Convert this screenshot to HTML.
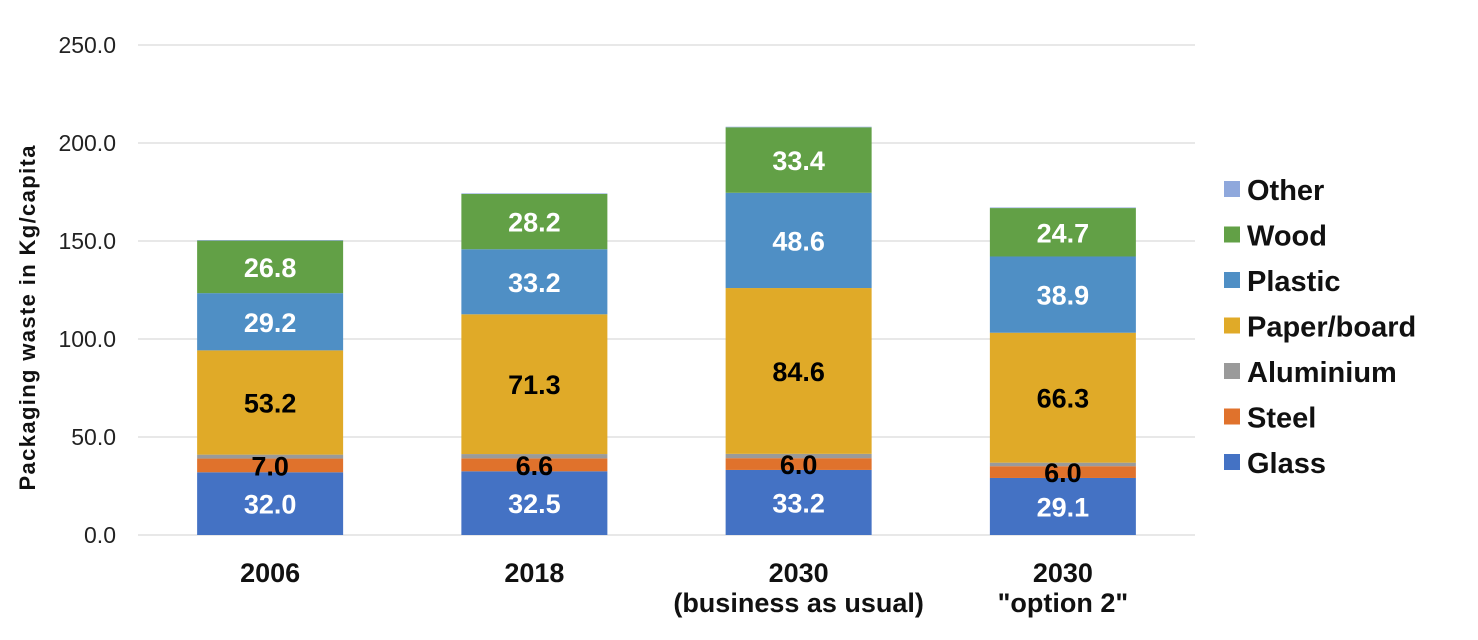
<!DOCTYPE html>
<html><head><meta charset="utf-8"><style>
html,body{margin:0;padding:0;background:#fff;}
svg{display:block;font-family:"Liberation Sans",Arial,sans-serif;}
</style></head><body>
<svg id="chart" width="1478" height="640"></svg>
<script>
const categories = ["2006", "2018", "2030|(business as usual)", "2030|\"option 2\""];
const seriesNames = ["Glass", "Steel", "Aluminium", "Paper/board", "Plastic", "Wood", "Other"];
const glass = [32.0, 32.5, 33.2, 29.1];
const steel = [7.0, 6.6, 6.0, 6.0];
const aluminium = [2.0, 2.2, 2.2, 1.8];
const paper = [53.2, 71.3, 84.6, 66.3];
const plastic = [29.2, 33.2, 48.6, 38.9];
const wood = [26.8, 28.2, 33.4, 24.7];
const other = [0.3, 0.3, 0.3, 0.3];
const yTicks = [0, 50, 100, 150, 200, 250];
const showLabel = [true, true, false, true, true, true, false];
const colors = ["#4472c4", "#e0722c", "#9a9a9a", "#e0aa28", "#4f8fc5", "#62a046", "#8fa8dc"];
const labelColors = ["#fff", "#000", "#000", "#000", "#fff", "#fff", "#000"];
const series = [glass, steel, aluminium, paper, plastic, wood, other];

const NS = "http://www.w3.org/2000/svg";
const svg = document.getElementById("chart");
const plotLeft = 138, plotRight = 1195, y0 = 535, yTop = 45, yMax = 250;
const yScale = v => y0 - (v / yMax) * (y0 - yTop);
const band = (plotRight - plotLeft) / categories.length;
const barW = 146;
const xCenter = i => plotLeft + band * (i + 0.5);

function mk(tag, attrs, parent) {
  const e = document.createElementNS(NS, tag);
  for (const k in attrs) e.setAttribute(k, attrs[k]);
  (parent || svg).appendChild(e);
  return e;
}

yTicks.forEach(t => {
  const g = mk("line", {x1: plotLeft, x2: plotRight, y1: yScale(t), y2: yScale(t), stroke: "#d9d9d9", "stroke-width": 1.2});
  
  
  const tx = mk("text", {x: 116, y: yScale(t) + 8, "text-anchor": "end", "font-size": 23, fill: "#222"});
  tx.textContent = t.toFixed(1);
  
  
});

const yt = mk("text", {x: 0, y: 0, transform: "translate(35,318) rotate(-90)", "text-anchor": "middle", "font-size": 22, "font-weight": "bold", fill: "#111"});
yt.textContent = "Packaging waste in Kg/capita";
yt.setAttribute('textLength', '345');



categories.forEach((c, i) => {
  let cum = 0;
  series.forEach((s, k) => {
    const v = s[i];
    const yb = yScale(cum), yt2 = yScale(cum + v);
    const r = mk("rect", {x: xCenter(i) - barW / 2, y: yt2, width: barW, height: yb - yt2, fill: colors[k]});
    
    
    cum += v;
  });
  cum = 0;
  series.forEach((s, k) => {
    const v = s[i];
    if (showLabel[k]) {
      const cy = (yScale(cum) + yScale(cum + v)) / 2;
      const l = mk("text", {x: xCenter(i), y: cy + 10, "text-anchor": "middle", "font-size": 27, "font-weight": "bold", fill: labelColors[k]});
      l.textContent = v.toFixed(1);
      
      
    }
    cum += v;
  });
  const parts = c.split("|");
  parts.forEach((p, j) => {
    const t = mk("text", {x: xCenter(i), y: 582 + j * 30, "text-anchor": "middle", "font-size": 27, "font-weight": "bold", fill: "#111"});
    t.textContent = p;
    
    
  });
});

seriesNames.forEach((n, k) => {
  const y = 190 + (6 - k) * 45.5;
  const sq = mk("rect", {x: 1224, y: y - 9, width: 16, height: 16, fill: colors[k]});
  
  
  const t = mk("text", {x: 1247, y: y + 10, "font-size": 29, "font-weight": "bold", fill: "#111"});
  t.textContent = n;
  
  
});
</script>
</body></html>
